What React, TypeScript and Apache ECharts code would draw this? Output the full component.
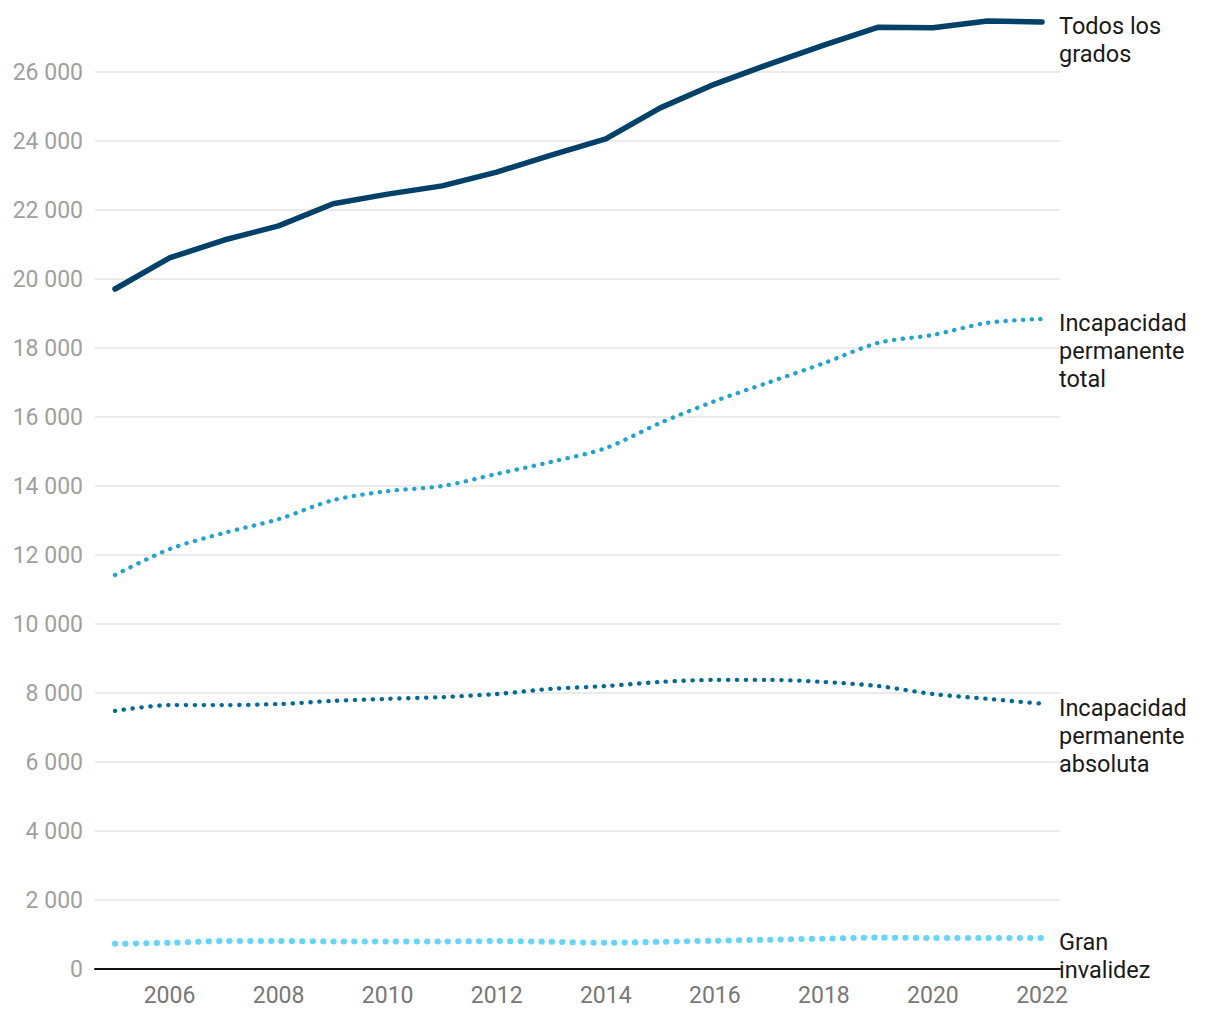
import React, { useEffect, useRef } from "react";
import * as echarts from "echarts";

const years = [2005, 2006, 2007, 2008, 2009, 2010, 2011, 2012, 2013, 2014, 2015, 2016, 2017, 2018, 2019, 2020, 2021, 2022];
const todos = [19710, 20610, 21130, 21540, 22180, 22460, 22700, 23100, 23590, 24060, 24960, 25650, 26230, 26780, 27300, 27280, 27480, 27450];
const total = [11420, 12170, 12640, 13040, 13590, 13850, 14000, 14350, 14700, 15100, 15830, 16460, 17010, 17560, 18150, 18380, 18730, 18840];
const absoluta = [7480, 7650, 7650, 7680, 7770, 7830, 7880, 7970, 8120, 8200, 8320, 8380, 8380, 8320, 8200, 7970, 7830, 7690];
const gran = [730, 760, 810, 810, 800, 800, 800, 810, 790, 760, 790, 820, 850, 880, 910, 900, 900, 900];
const seriesLabels = ["Todos los\ngrados", "Incapacidad\npermanente\ntotal", "Incapacidad\npermanente\nabsoluta", "Gran\ninvalidez"];
const xTickYears = [2006, 2008, 2010, 2012, 2014, 2016, 2018, 2020, 2022];

const FONT = "Roboto";

function fmt(v: number) {
  return String(v).replace(/\B(?=(\d{3})+(?!\d))/g, " ");
}

export default function App() {
  const ref = useRef<HTMLDivElement>(null);
  useEffect(() => {
    if (!ref.current) return;
    const chart = echarts.init(ref.current, null, { renderer: "svg" });
    const pair = (arr: number[]) => years.map((y, i) => [y, arr[i]]);
    const endLabel = (text: string) => ({
      show: true,
      formatter: () => text,
      color: "#1a1a1a",
      fontFamily: FONT,
      fontSize: 23.5,
      lineHeight: 28,
      align: "left",
      verticalAlign: "top",
      distance: 17,
      offset: [0, -10],
    });
    chart.setOption({
      animation: false,
      grid: { left: 87, right: 152, top: 64, bottom: 43, containLabel: false },
      xAxis: {
        type: "value",
        min: 2004.633,
        max: 2022.33,
        axisLine: { show: true, lineStyle: { color: "#111", width: 2 } },
        axisTick: { show: false },
        splitLine: { show: false },
        axisLabel: {
          customValues: xTickYears,
          color: "#777",
          fontFamily: FONT,
          fontSize: 23,
          margin: 15,
          formatter: (v: number) => String(v),
        },
      },
      yAxis: {
        type: "value",
        min: 0,
        max: 26000,
        interval: 2000,
        axisLine: { show: false },
        axisTick: { show: false },
        splitLine: { lineStyle: { color: "#e3e3e3", width: 1.5 } },
        axisLabel: {
          color: "#a0a0a0",
          fontFamily: FONT,
          fontSize: 23,
          margin: 12,
          formatter: (v: number) => fmt(v),
        },
      },
      series: [
        {
          type: "line",
          name: "todos",
          data: pair(todos),
          clip: false,
          symbol: "none",
          lineStyle: { color: "#00416a", width: 5.5, cap: "round", join: "round" },
          endLabel: endLabel(seriesLabels[0]),
          z: 5,
        },
        {
          type: "line",
          name: "total",
          data: pair(total),
          clip: false,
          symbol: "none",
          smooth: 0.3,
          lineStyle: { color: "#1ea3d3", width: 4.3, type: [0.3, 8.4], cap: "round" },
          endLabel: endLabel(seriesLabels[1]),
        },
        {
          type: "line",
          name: "absoluta",
          data: pair(absoluta),
          clip: false,
          symbol: "none",
          smooth: 0.3,
          lineStyle: { color: "#006a99", width: 4.3, type: [0.3, 8.6], cap: "round" },
          endLabel: endLabel(seriesLabels[2]),
        },
        {
          type: "line",
          name: "gran",
          data: pair(gran),
          clip: false,
          symbol: "none",
          smooth: 0.3,
          lineStyle: { color: "#63d5ff", width: 6, type: [0.3, 10.1], cap: "round" },
          endLabel: endLabel(seriesLabels[3]),
        },
      ],
    });
    return () => chart.dispose();
  }, []);
  return <div ref={ref} style={{ width: 1204, height: 1004 }} />;
}
